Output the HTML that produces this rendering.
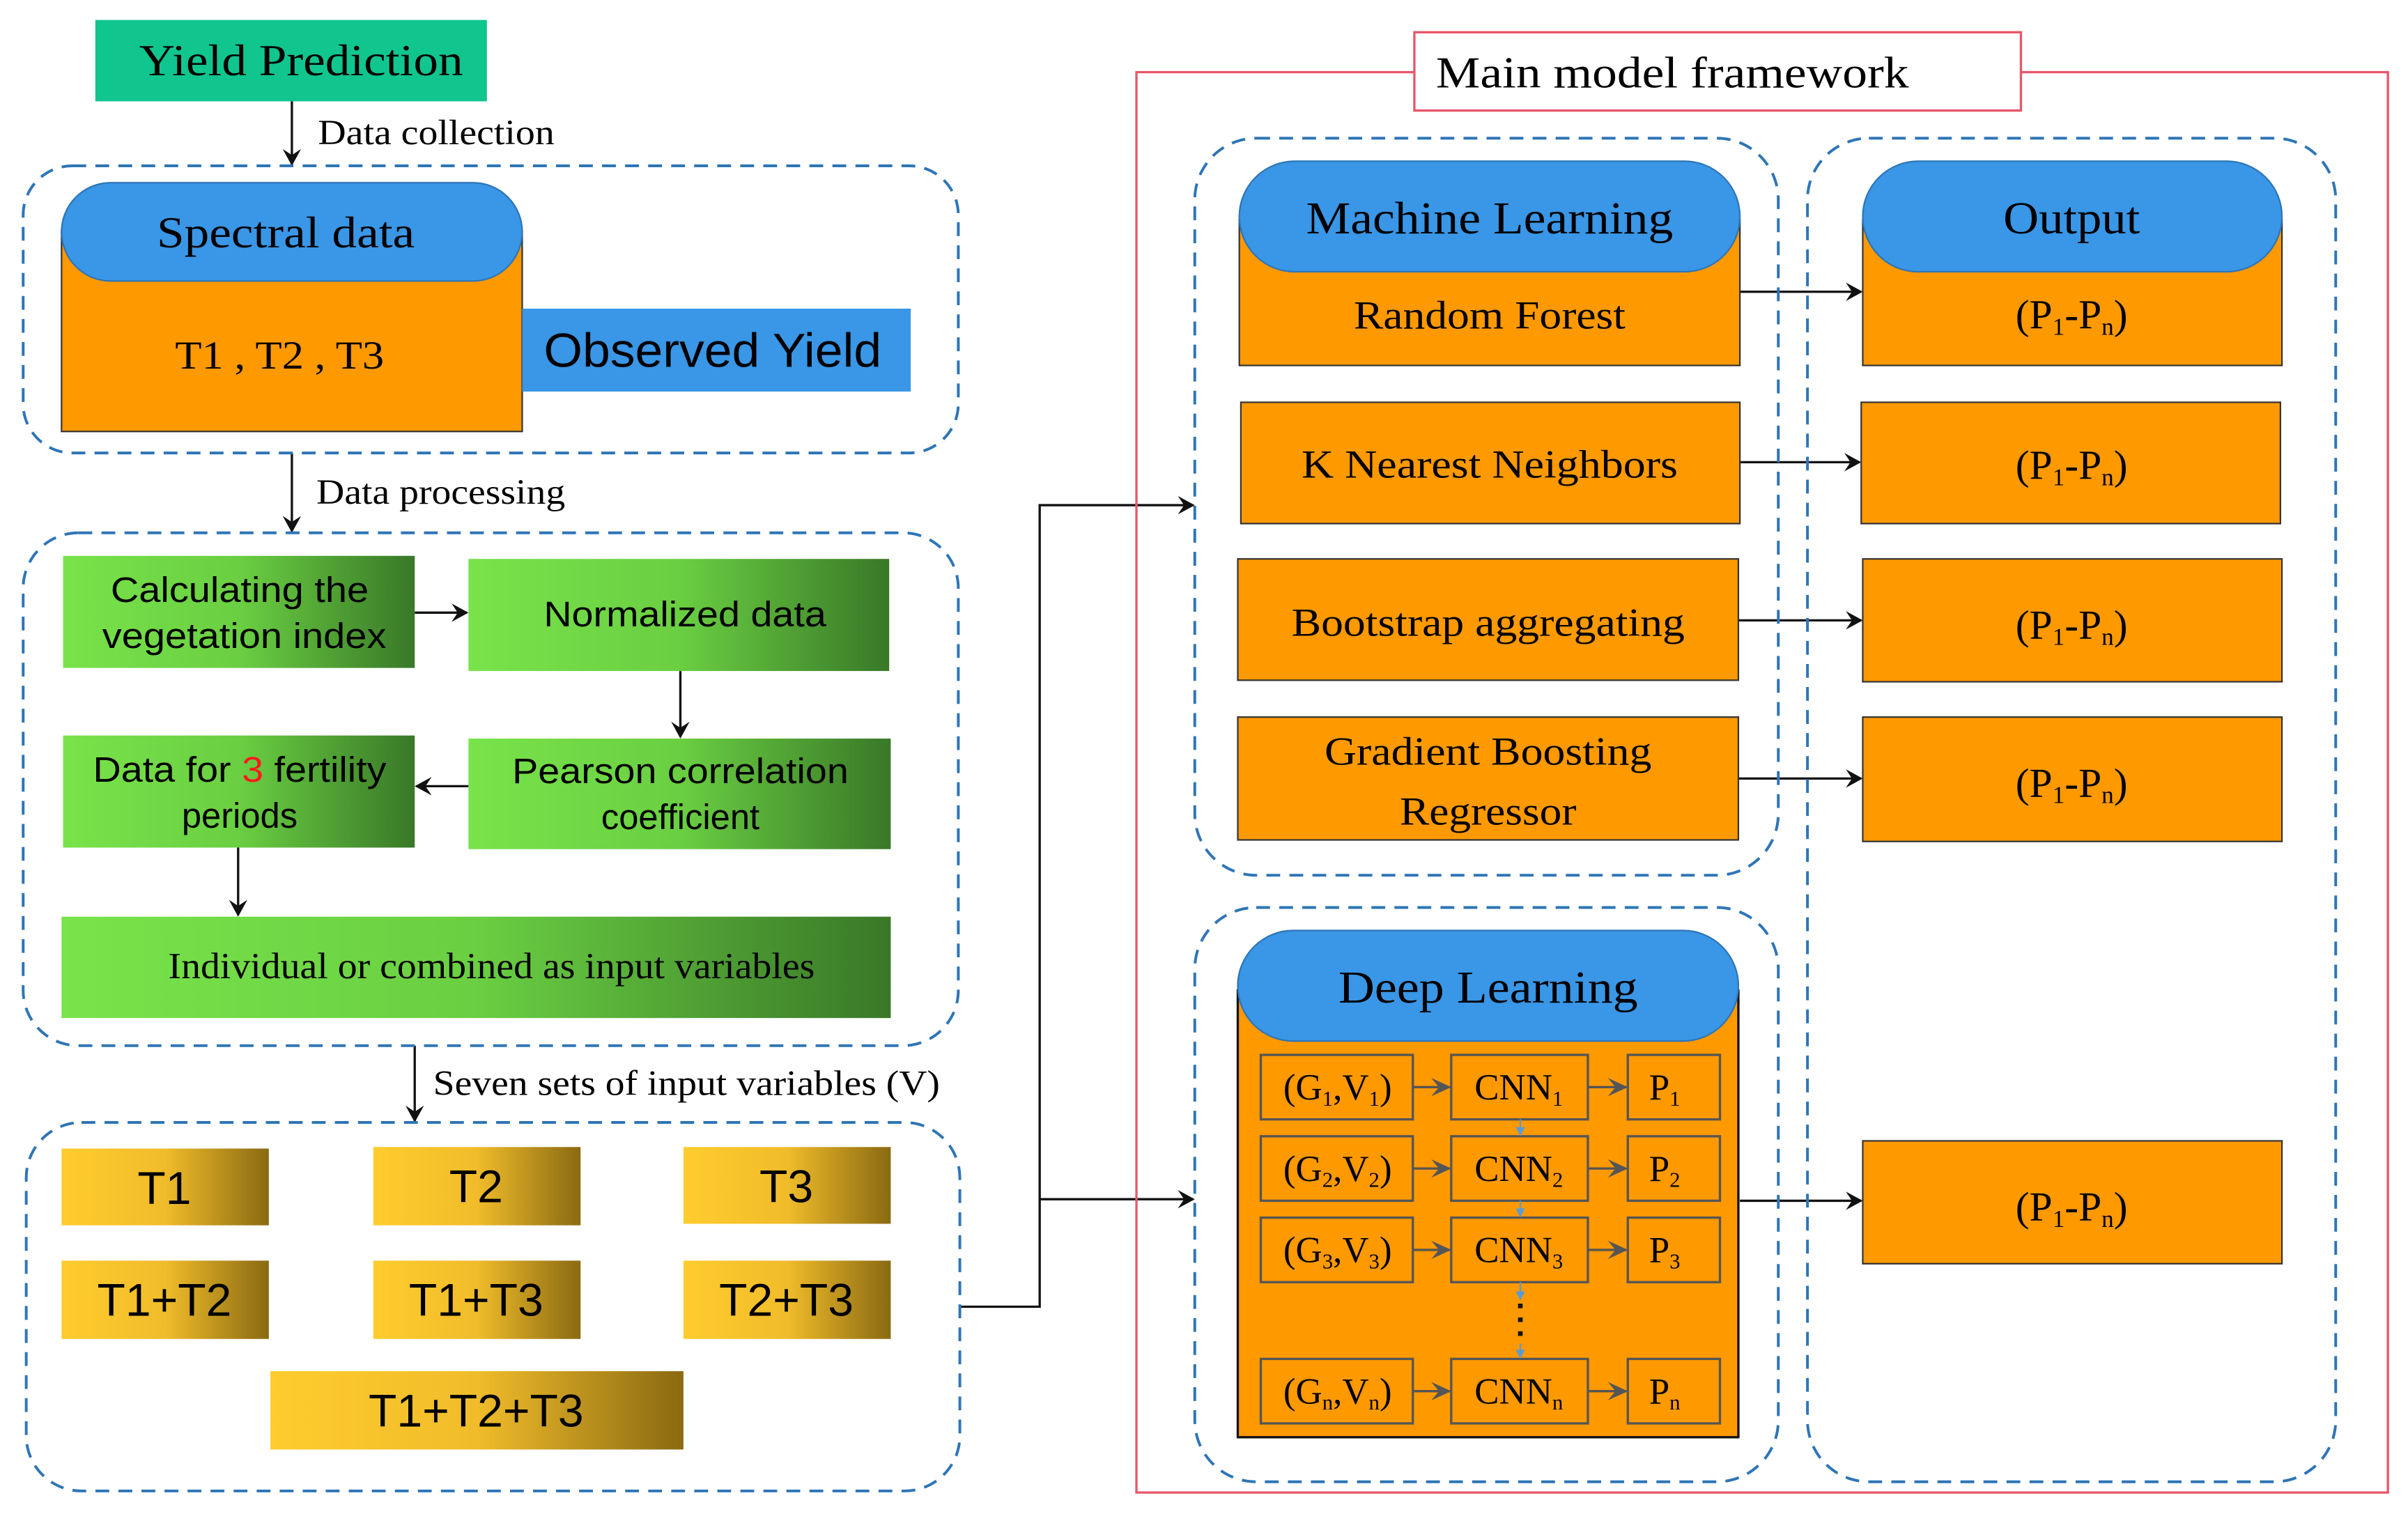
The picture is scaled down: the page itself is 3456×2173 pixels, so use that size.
<!DOCTYPE html>
<html><head><meta charset="utf-8"><style>
html,body{margin:0;padding:0;background:#fff;}
svg{display:block;}
.s{font-family:"Liberation Serif",serif;}
.a{font-family:"Liberation Sans",sans-serif;}
</style></head><body>
<svg width="3456" height="2173" viewBox="0 0 1568 986" xmlns="http://www.w3.org/2000/svg">
<defs>
<linearGradient id="g" x1="0" x2="1" y1="0" y2="0"><stop offset="0" stop-color="#78e34a"/><stop offset="0.5" stop-color="#6acf42"/><stop offset="1" stop-color="#397828"/></linearGradient>
<linearGradient id="y" x1="0" x2="1" y1="0" y2="0"><stop offset="0" stop-color="#ffcc2e"/><stop offset="0.5" stop-color="#f0bc2a"/><stop offset="1" stop-color="#8a6a12"/></linearGradient>
<marker id="ar" markerWidth="12" markerHeight="12" refX="10" refY="6" orient="auto" markerUnits="userSpaceOnUse"><path d="M0,0 L11,6 L0,12 L4,6 Z" fill="#111"/></marker>
<marker id="gr" markerWidth="14" markerHeight="14" refX="12" refY="7" orient="auto" markerUnits="userSpaceOnUse"><path d="M0,1 L13,7 L0,13 L5,7 Z" fill="#555"/></marker>
<marker id="bl" markerWidth="6" markerHeight="6" refX="5" refY="3" orient="auto" markerUnits="userSpaceOnUse"><path d="M0,0 L6,3 L0,6 Z" fill="#5b9bd5"/></marker>
</defs>
<g fill="none" stroke="#111" stroke-width="1.5">
<line x1="190" y1="66" x2="190" y2="107" marker-end="url(#ar)"/>
<line x1="190" y1="295" x2="190" y2="346" marker-end="url(#ar)"/>
<line x1="270" y1="681" x2="270" y2="730" marker-end="url(#ar)"/>
<line x1="270" y1="399" x2="304" y2="399" marker-end="url(#ar)"/>
<line x1="443" y1="437" x2="443" y2="480" marker-end="url(#ar)"/>
<line x1="305" y1="512" x2="271" y2="512" marker-end="url(#ar)"/>
<line x1="155" y1="552" x2="155" y2="596" marker-end="url(#ar)"/>
<polyline points="625,851 677,851 677,329 777,329" marker-end="url(#ar)"/>
<line x1="677" y1="781" x2="777" y2="781" marker-end="url(#ar)"/>
<line x1="1133" y1="190" x2="1212" y2="190" marker-end="url(#ar)"/>
<line x1="1133" y1="301" x2="1211" y2="301" marker-end="url(#ar)"/>
<line x1="1132" y1="404" x2="1212" y2="404" marker-end="url(#ar)"/>
<line x1="1132" y1="507" x2="1212" y2="507" marker-end="url(#ar)"/>
<line x1="1133" y1="782" x2="1212" y2="782" marker-end="url(#ar)"/>
</g>
<g fill="none" stroke="#2e75b6" stroke-width="1.8" stroke-dasharray="9,6">
<rect x="15" y="108" width="609" height="187" rx="32"/>
<rect x="15" y="347" width="609" height="334" rx="36"/>
<rect x="17" y="731" width="608" height="240" rx="36"/>
<rect x="778" y="90" width="380" height="480" rx="40"/>
<rect x="1177" y="90" width="344" height="875" rx="40"/>
<rect x="778" y="591" width="380" height="374" rx="40"/>
</g>
<rect x="740" y="47" width="815" height="925" fill="none" stroke="#e8566a" stroke-width="1.5"/>
<rect x="921" y="21" width="395" height="51" fill="#fff" stroke="#e8566a" stroke-width="1.5"/>
<text x="935" y="57" class="s" font-size="29" textLength="308" lengthAdjust="spacingAndGlyphs">Main model framework</text>
<rect x="62" y="13" width="255" height="53" fill="#11c58f"/>
<text x="196" y="49" class="s" font-size="29" text-anchor="middle" textLength="211" lengthAdjust="spacingAndGlyphs">Yield Prediction</text>
<text x="207" y="94" class="s" font-size="23" textLength="154" lengthAdjust="spacingAndGlyphs">Data collection</text>
<text x="206" y="328" class="s" font-size="23" textLength="162" lengthAdjust="spacingAndGlyphs">Data processing</text>
<text x="282" y="713" class="s" font-size="23" textLength="330" lengthAdjust="spacingAndGlyphs">Seven sets of input variables (V)</text>
<!-- spectral -->
<rect x="40" y="150" width="300" height="131" fill="#ff9900" stroke="#333" stroke-width="1"/>
<rect x="40" y="119" width="300" height="64" rx="32" fill="#3a96e6" stroke="#2e75b6"/>
<text x="186" y="161" class="s" font-size="29" text-anchor="middle" textLength="168" lengthAdjust="spacingAndGlyphs">Spectral data</text>
<text x="182" y="240" class="s" font-size="26" text-anchor="middle" textLength="136" lengthAdjust="spacingAndGlyphs">T1 , T2 , T3</text>
<rect x="340" y="201" width="253" height="54" fill="#3a96e6"/>
<text x="464" y="239" class="a" font-size="31" text-anchor="middle" textLength="220" lengthAdjust="spacingAndGlyphs">Observed Yield</text>
<!-- green -->
<rect x="41" y="362" width="229" height="73" fill="url(#g)"/>
<text x="156" y="392" class="a" font-size="23" text-anchor="middle" textLength="168" lengthAdjust="spacingAndGlyphs">Calculating the</text>
<text x="159" y="422" class="a" font-size="23" text-anchor="middle" textLength="185" lengthAdjust="spacingAndGlyphs">vegetation index</text>
<rect x="305" y="364" width="274" height="73" fill="url(#g)"/>
<text x="446" y="408" class="a" font-size="23" text-anchor="middle" textLength="184" lengthAdjust="spacingAndGlyphs">Normalized data</text>
<rect x="305" y="481" width="275" height="72" fill="url(#g)"/>
<text x="443" y="510" class="a" font-size="23" text-anchor="middle" textLength="219" lengthAdjust="spacingAndGlyphs">Pearson correlation</text>
<text x="443" y="540" class="a" font-size="23" text-anchor="middle">coefficient</text>
<rect x="41" y="479" width="229" height="73" fill="url(#g)"/>
<text x="156" y="509" class="a" font-size="23" text-anchor="middle" textLength="191" lengthAdjust="spacingAndGlyphs">Data for <tspan fill="#ff1a1a">3</tspan> fertility</text>
<text x="156" y="539" class="a" font-size="23" text-anchor="middle">periods</text>
<rect x="40" y="597" width="540" height="66" fill="url(#g)"/>
<text x="320" y="637" class="s" font-size="24" text-anchor="middle" textLength="421" lengthAdjust="spacingAndGlyphs">Individual or combined as input variables</text>
<!-- gold -->
<g class="a" font-size="30" text-anchor="middle">
<rect x="40" y="748" width="135" height="50" fill="url(#y)"/><text x="107" y="784">T1</text>
<rect x="243" y="747" width="135" height="51" fill="url(#y)"/><text x="310" y="783">T2</text>
<rect x="445" y="747" width="135" height="50" fill="url(#y)"/><text x="512" y="783">T3</text>
<rect x="40" y="821" width="135" height="51" fill="url(#y)"/><text x="107" y="857">T1+T2</text>
<rect x="243" y="821" width="135" height="51" fill="url(#y)"/><text x="310" y="857">T1+T3</text>
<rect x="445" y="821" width="135" height="51" fill="url(#y)"/><text x="512" y="857">T2+T3</text>
<rect x="176" y="893" width="269" height="51" fill="url(#y)"/><text x="310" y="929">T1+T2+T3</text>
</g>
<!-- ML -->
<rect x="807" y="143" width="326" height="95" fill="#ff9900" stroke="#333"/>
<rect x="807" y="105" width="326" height="72" rx="36" fill="#3a96e6" stroke="#2e75b6"/>
<text x="970" y="152" class="s" font-size="30" text-anchor="middle" textLength="239" lengthAdjust="spacingAndGlyphs">Machine Learning</text>
<text x="970" y="214" class="s" font-size="26" text-anchor="middle" textLength="177" lengthAdjust="spacingAndGlyphs">Random Forest</text>
<g fill="#ff9900" stroke="#333">
<rect x="808" y="262" width="325" height="79"/>
<rect x="806" y="364" width="326" height="79"/>
<rect x="806" y="467" width="326" height="80"/>
<rect x="1212" y="262" width="273" height="79"/>
<rect x="1213" y="364" width="273" height="80"/>
<rect x="1213" y="467" width="273" height="81"/>
<rect x="1213" y="743" width="273" height="80"/>
</g>
<g class="s" font-size="26" text-anchor="middle">
<text x="970" y="311" textLength="245" lengthAdjust="spacingAndGlyphs">K Nearest Neighbors</text>
<text x="969" y="414" textLength="256" lengthAdjust="spacingAndGlyphs">Bootstrap aggregating</text>
<text x="969" y="498" textLength="213" lengthAdjust="spacingAndGlyphs">Gradient Boosting</text>
<text x="969" y="537" textLength="115" lengthAdjust="spacingAndGlyphs">Regressor</text>
</g>
<!-- Output -->
<rect x="1213" y="143" width="273" height="95" fill="#ff9900" stroke="#333"/>
<rect x="1213" y="105" width="273" height="72" rx="36" fill="#3a96e6" stroke="#2e75b6"/>
<text x="1349" y="152" class="s" font-size="30" text-anchor="middle" textLength="89" lengthAdjust="spacingAndGlyphs">Output</text>
<g class="s" font-size="27" text-anchor="middle">
<text x="1349" y="214">(P<tspan font-size="16" dy="4">1</tspan><tspan dy="-4">-P</tspan><tspan font-size="16" dy="4">n</tspan><tspan dy="-4">)</tspan></text>
<text x="1349" y="312">(P<tspan font-size="16" dy="4">1</tspan><tspan dy="-4">-P</tspan><tspan font-size="16" dy="4">n</tspan><tspan dy="-4">)</tspan></text>
<text x="1349" y="416">(P<tspan font-size="16" dy="4">1</tspan><tspan dy="-4">-P</tspan><tspan font-size="16" dy="4">n</tspan><tspan dy="-4">)</tspan></text>
<text x="1349" y="519">(P<tspan font-size="16" dy="4">1</tspan><tspan dy="-4">-P</tspan><tspan font-size="16" dy="4">n</tspan><tspan dy="-4">)</tspan></text>
<text x="1349" y="795">(P<tspan font-size="16" dy="4">1</tspan><tspan dy="-4">-P</tspan><tspan font-size="16" dy="4">n</tspan><tspan dy="-4">)</tspan></text>
</g>
<!-- DL -->
<rect x="806" y="645" width="326" height="291" fill="#ff9900" stroke="#111" stroke-width="1.5"/>
<rect x="806" y="606" width="326" height="72" rx="36" fill="#3a96e6" stroke="#2e75b6"/>
<text x="969" y="653" class="s" font-size="30" text-anchor="middle" textLength="195" lengthAdjust="spacingAndGlyphs">Deep Learning</text>
<g fill="none" stroke="#555" stroke-width="1.5">
<rect x="821" y="687" width="99" height="42"/><rect x="945" y="687" width="89" height="42"/><rect x="1060" y="687" width="60" height="42"/>
<rect x="821" y="740" width="99" height="42"/><rect x="945" y="740" width="89" height="42"/><rect x="1060" y="740" width="60" height="42"/>
<rect x="821" y="793" width="99" height="42"/><rect x="945" y="793" width="89" height="42"/><rect x="1060" y="793" width="60" height="42"/>
<rect x="821" y="885" width="99" height="42"/><rect x="945" y="885" width="89" height="42"/><rect x="1060" y="885" width="60" height="42"/>
<line x1="920" y1="708" x2="944" y2="708" marker-end="url(#gr)"/><line x1="1034" y1="708" x2="1059" y2="708" marker-end="url(#gr)"/>
<line x1="920" y1="761" x2="944" y2="761" marker-end="url(#gr)"/><line x1="1034" y1="761" x2="1059" y2="761" marker-end="url(#gr)"/>
<line x1="920" y1="814" x2="944" y2="814" marker-end="url(#gr)"/><line x1="1034" y1="814" x2="1059" y2="814" marker-end="url(#gr)"/>
<line x1="920" y1="906" x2="944" y2="906" marker-end="url(#gr)"/><line x1="1034" y1="906" x2="1059" y2="906" marker-end="url(#gr)"/>
</g>
<g stroke="#5b9bd5" stroke-width="1">
<line x1="990" y1="729" x2="990" y2="739" marker-end="url(#bl)"/>
<line x1="990" y1="782" x2="990" y2="792" marker-end="url(#bl)"/>
<line x1="990" y1="835" x2="990" y2="846" marker-end="url(#bl)"/>
<line x1="990" y1="875" x2="990" y2="884" marker-end="url(#bl)"/>
</g>
<g fill="#111"><rect x="988.5" y="849" width="3" height="3"/><rect x="988.5" y="858" width="3" height="3"/><rect x="988.5" y="867" width="3" height="3"/></g>
<g class="s" font-size="24" text-anchor="middle">
<text x="871" y="716">(G<tspan font-size="14" dy="4">1</tspan><tspan dy="-4">,V</tspan><tspan font-size="14" dy="4">1</tspan><tspan dy="-4">)</tspan></text>
<text x="871" y="769">(G<tspan font-size="14" dy="4">2</tspan><tspan dy="-4">,V</tspan><tspan font-size="14" dy="4">2</tspan><tspan dy="-4">)</tspan></text>
<text x="871" y="822">(G<tspan font-size="14" dy="4">3</tspan><tspan dy="-4">,V</tspan><tspan font-size="14" dy="4">3</tspan><tspan dy="-4">)</tspan></text>
<text x="871" y="914">(G<tspan font-size="14" dy="4">n</tspan><tspan dy="-4">,V</tspan><tspan font-size="14" dy="4">n</tspan><tspan dy="-4">)</tspan></text>
<text x="989" y="716">CNN<tspan font-size="14" dy="4">1</tspan></text>
<text x="989" y="769">CNN<tspan font-size="14" dy="4">2</tspan></text>
<text x="989" y="822">CNN<tspan font-size="14" dy="4">3</tspan></text>
<text x="989" y="914">CNN<tspan font-size="14" dy="4">n</tspan></text>
<text x="1084" y="716">P<tspan font-size="14" dy="4">1</tspan></text>
<text x="1084" y="769">P<tspan font-size="14" dy="4">2</tspan></text>
<text x="1084" y="822">P<tspan font-size="14" dy="4">3</tspan></text>
<text x="1084" y="914">P<tspan font-size="14" dy="4">n</tspan></text>
</g>
</svg>
</body></html>
